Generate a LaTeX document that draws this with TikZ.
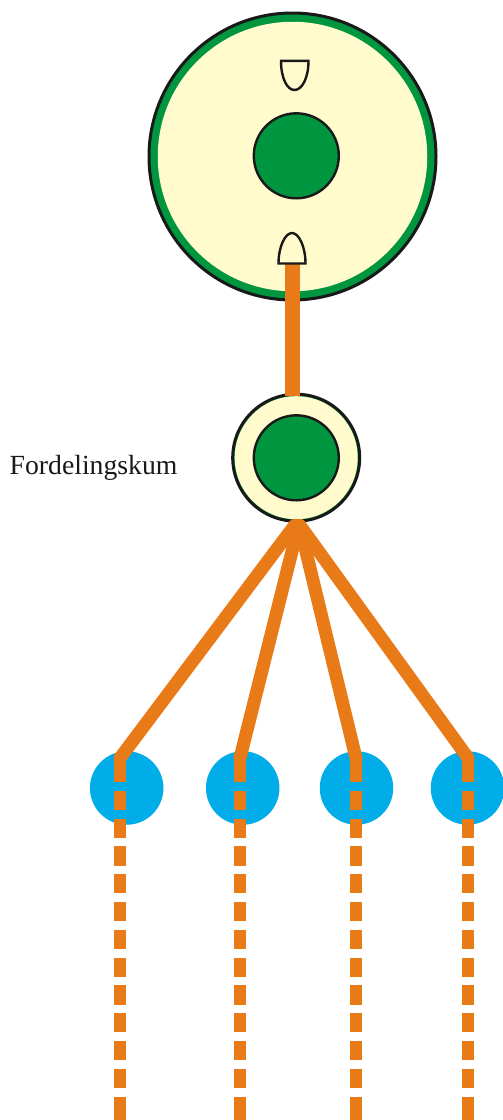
\documentclass[tikz,border=0pt]{standalone}
\usepackage{fontspec}
\setmainfont{Liberation Serif}
\definecolor{ringgreen}{HTML}{009640}
\definecolor{cream}{HTML}{FFFBCC}
\definecolor{pipeorange}{HTML}{E97A18}
\definecolor{spotblue}{HTML}{00ADE9}
\tikzset{
    outer-ring/.style = {draw=black!90, fill=ringgreen, line width=3pt, circle, inner sep=0pt},
    inner-fill/.style = {fill=cream, circle, inner sep=0pt},
    core/.style = {draw=black!90, fill=ringgreen, line width=2.4pt, circle, inner sep=0pt, minimum size=85pt},
    spot/.style = {fill=spotblue, circle, inner sep=0pt, minimum size=73.5pt},
    cup/.style = {draw=black!90, fill=cream, line width=2.4pt},
    stem/.style = {draw=pipeorange, line width=14.7pt},
    pipe/.style = {draw=pipeorange, line width=13pt, line cap=round},
    tail/.style = {draw=pipeorange, line width=12pt},
    drain/.style = {draw=pipeorange, line width=12pt, dash pattern=on 19.2pt off 8.6pt},
    kum-label/.style = {font=\fontsize{27.7pt}{30pt}\selectfont, text=black!90, inner sep=0pt},
}
\begin{document}
\begin{tikzpicture}[x=1pt, y=-1pt]
\useasboundingbox (0,0) rectangle (503,1120);
\node [outer-ring, minimum size=287pt] (tank) at (292.5,156.5) {};
\node [inner-fill, minimum size=269.5pt] (tank-inner) at (292.5,156.5) {};
\node [core] (tank-core) at (296.3,155.8) {};
\node [outer-ring, minimum size=127pt] (kum) at (296.2,457.7) {};
\node [inner-fill, minimum size=123pt] (kum-inner) at (296.2,457.7) {};
\node [core] (kum-core) at (296.3,457.8) {};
\node [kum-label, anchor=base west] (kum-text) at (9.5,474) {Fordelingskum};

\node [spot] (spot-a) at (126.7,788) {};
\node [spot] (spot-b) at (242.7,788) {};
\node [spot] (spot-c) at (356.5,788) {};
\node [spot] (spot-d) at (467.5,788) {};

\coordinate (stem-top) at (292.3,264);
\coordinate (stem-end) at (292.3,396);
\draw [stem] (stem-top) -- (stem-end);
\draw [cup] (281,60.8) -- (308.5,60.8) .. controls (308.5,78) and (302,90) .. (294.5,90) .. controls (287,90) and (281,78) .. (281,60.8) -- cycle;
\draw [cup] (278.5,263.5) -- (305.5,263.5) .. controls (305.5,247) and (299,233) .. (292,233) .. controls (285,233) and (278.5,247) .. (278.5,263.5) -- cycle;

\foreach \spotname/\x/\apexx in {a/120/294.5, b/240/298.5, c/356/299.7, d/468/300} {
    \coordinate (apex-\spotname) at (\apexx,525.5);
    \coordinate (bend-\spotname) at (\x,758);
    \coordinate (drain-\spotname) at (\x,763);
    \coordinate (tail-\spotname) at (\x,1097);
    \coordinate (foot-\spotname) at (\x,1120);
    \draw [pipe] (apex-\spotname) -- (bend-\spotname);
    \draw [tail] (bend-\spotname) -- (drain-\spotname);
    \draw [drain] (drain-\spotname) -- (foot-\spotname);
    \draw [tail] (tail-\spotname) -- (foot-\spotname);
}
\end{tikzpicture}
\end{document}
